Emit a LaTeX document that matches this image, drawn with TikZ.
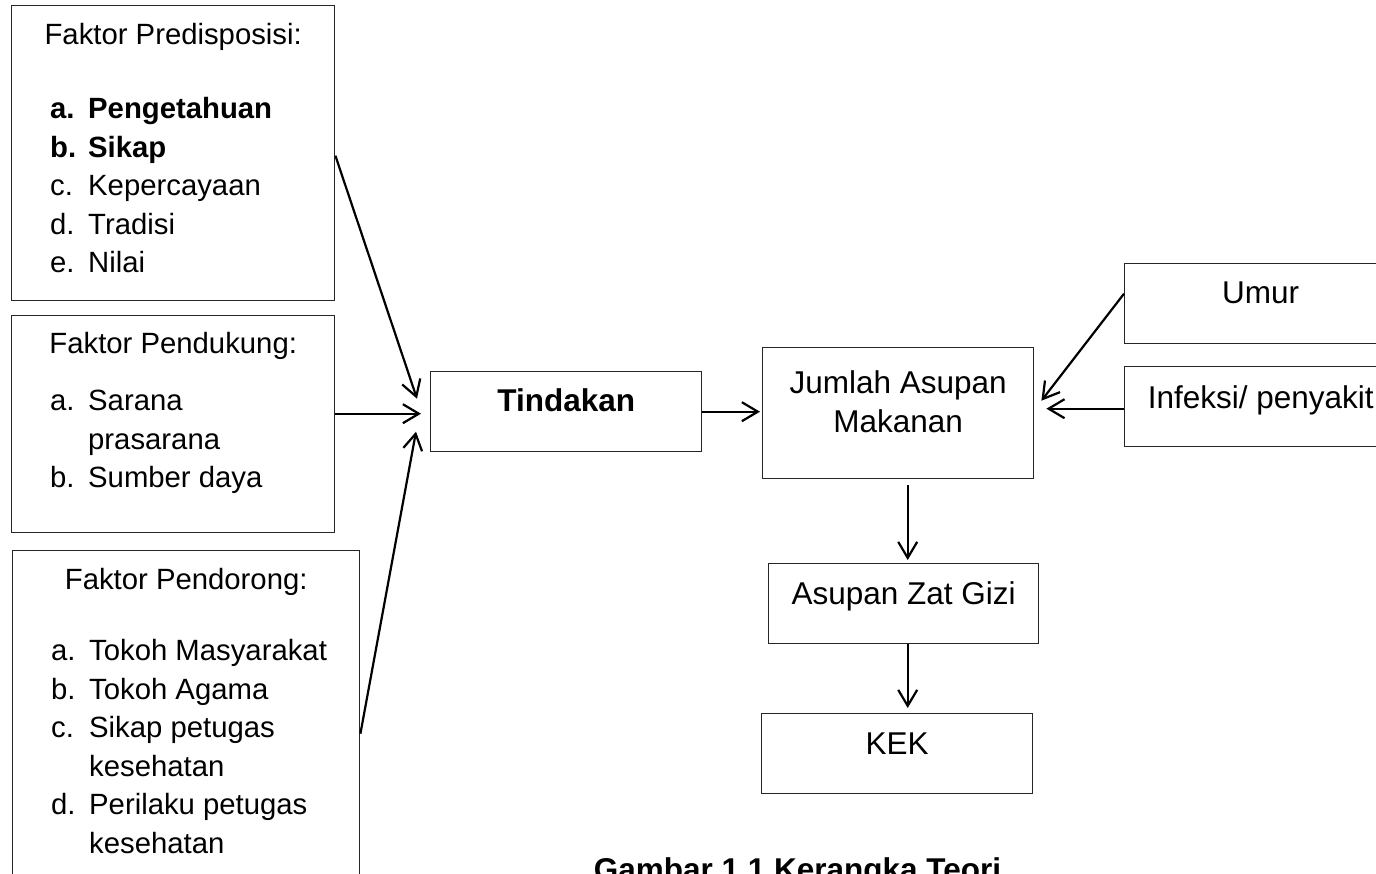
\documentclass[tikz,border=0pt]{standalone}
\usepackage{fontspec}
\setmainfont{Liberation Sans}
\usetikzlibrary{arrows.meta}

\newcommand{\fitem}[2]{\hspace*{38.5pt}\makebox[38pt][l]{#1}#2}
\newcommand{\fnext}[1]{\hspace*{76.5pt}#1}
\newcommand{\lfont}{\fontsize{29.3}{38.5}\selectfont}
\newcommand{\rfont}{\fontsize{31.5}{39}\selectfont}

\begin{document}
\begin{tikzpicture}[x=1pt,y=-1pt,
        kotak/.style={draw=black!85,line width=1.4pt,inner sep=0pt,anchor=north west},
        faktor/.style={kotak,font=\lfont},
        hasil/.style={kotak,font=\rfont,minimum width=271pt},
        panah/.style={-{Straight Barb[length=16pt,width=19pt]},line width=2.2pt}]
    \useasboundingbox (0,0) rectangle (1376,874);

    \node[faktor,text height=39pt,text depth=256pt] (predis) at (11,5) {\parbox[t]{323pt}{%
        {\centering Faktor Predisposisi:\par}
        \vspace{35.5pt}
        \fitem{\textbf{a.}}{\textbf{Pengetahuan}}\\
        \fitem{\textbf{b.}}{\textbf{Sikap}}\\
        \fitem{c.}{Kepercayaan}\\
        \fitem{d.}{Tradisi}\\
        \fitem{e.}{Nilai}}};

    \node[faktor,text height=38pt,text depth=179pt] (pendukung) at (11,315) {\parbox[t]{323pt}{%
        {\centering Faktor Pendukung:\par}
        \vspace{18.5pt}
        \fitem{a.}{Sarana}\\
        \fnext{prasarana}\\
        \fitem{b.}{Sumber daya}}};

    \node[faktor,text height=39pt,text depth=311pt] (pendorong) at (12,550) {\parbox[t]{347pt}{%
        {\centering Faktor Pendorong:\par}
        \vspace{32.5pt}
        \fitem{a.}{Tokoh Masyarakat}\\
        \fitem{b.}{Tokoh Agama}\\
        \fitem{c.}{Sikap petugas}\\
        \fnext{kesehatan}\\
        \fitem{d.}{Perilaku petugas}\\
        \fnext{kesehatan}}};

    \node[hasil,text height=40pt,text depth=40pt,font=\rfont\bfseries] (tindakan) at (430,371) {Tindakan};
    \node[hasil,text height=46pt,text depth=85pt] (jumlah) at (762,347)
        {\begin{tabular}[t]{@{}c@{}}Jumlah Asupan\\Makanan\end{tabular}};
    \node[hasil,minimum width=270pt,text height=41pt,text depth=39pt] (asupan) at (768,563) {Asupan Zat Gizi};
    \node[hasil,text height=41pt,text depth=39pt] (kek) at (761,713) {KEK};
    \node[hasil,minimum width=272pt,text height=40pt,text depth=40pt] (umur) at (1124,263) {Umur};
    \node[hasil,minimum width=272pt,text height=42pt,text depth=38pt] (infeksi) at (1124,366) {Infeksi/ penyakit};

    \node[font=\rfont\bfseries,anchor=base] (judul) at (797.5,880) {Gambar 1.1 Kerangka Teori};

    \draw[panah] ([yshift=-2.5pt]predis.east) -- ([xshift=-13pt,yshift=13pt]tindakan.west);
    \draw[panah] ([yshift=10.5pt]pendukung.east) -- ([xshift=-9pt,yshift=-2pt]tindakan.west);
    \draw[panah] ([yshift=-8pt]pendorong.east) -- ([xshift=-14pt,yshift=-20pt]tindakan.west);
    \draw[panah] (tindakan.east) -- ([xshift=-2pt,yshift=1.5pt]jumlah.west);
    \draw[panah] ([yshift=10pt]umur.west) -- ([xshift=7pt,yshift=12.5pt]jumlah.east);
    \draw[panah] ([yshift=-2pt]infeksi.west) -- ([xshift=12pt,yshift=4.5pt]jumlah.east);
    \draw[panah] ([xshift=9.5pt,yshift=-6pt]jumlah.south) -- ([xshift=4pt,yshift=3pt]asupan.north);
    \draw[panah] ([xshift=4pt]asupan.south) -- ([xshift=10.5pt,yshift=5pt]kek.north);
\end{tikzpicture}
\end{document}
